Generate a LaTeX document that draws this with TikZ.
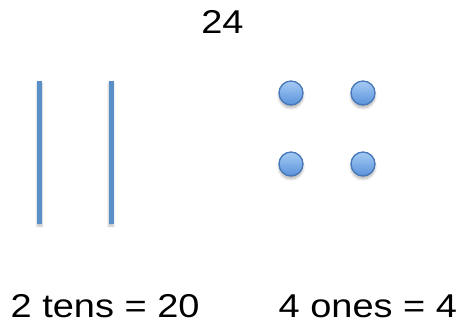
\documentclass[tikz,border=0pt]{standalone}
\usepackage{fontspec}
\setmainfont{Liberation Sans}[FakeStretch=1.15]
\usetikzlibrary{shadows,shadows.blur}
\definecolor{barblue}{HTML}{5B8FC8}
\definecolor{dottop}{HTML}{A5CBF5}
\definecolor{dotbot}{HTML}{5A92DA}
\definecolor{dotedge}{HTML}{4677B8}
\tikzset{
  px/.style={x=1pt,y=-1pt},
  lbl/.style={inner sep=0pt, anchor=base west, font=\fontsize{33}{38}\selectfont},
  tenbar/.style={fill=barblue, draw=none, blur shadow={shadow xshift=0pt, shadow yshift=-2pt, shadow blur steps=4, shadow opacity=25, shadow blur radius=2pt}},
  onedot/.style={circle, minimum size=24pt, inner sep=0pt, draw=dotedge, line width=1.3pt, top color=dottop, bottom color=dotbot, blur shadow={shadow xshift=0pt, shadow yshift=-3pt, shadow blur steps=5, shadow opacity=30, shadow blur radius=2.5pt}}
}
\begin{document}
\begin{tikzpicture}[px]
\useasboundingbox (0,0) rectangle (458,323);
\node[lbl, anchor=base] (title) at (222.5,34) {24};
\path[tenbar] (37,81) rectangle (42,224);
\path[tenbar] (108.5,81) rectangle (113.5,224);
\node[onedot] (d1) at (291,93) {};
\node[onedot] (d2) at (363,93) {};
\node[onedot] (d3) at (291,164) {};
\node[onedot] (d4) at (363,164) {};
\node[lbl] (tens) at (10.5,317) {2 tens = 20};
\node[lbl] (ones) at (278.5,317) {4 ones = 4};
\end{tikzpicture}
\end{document}
